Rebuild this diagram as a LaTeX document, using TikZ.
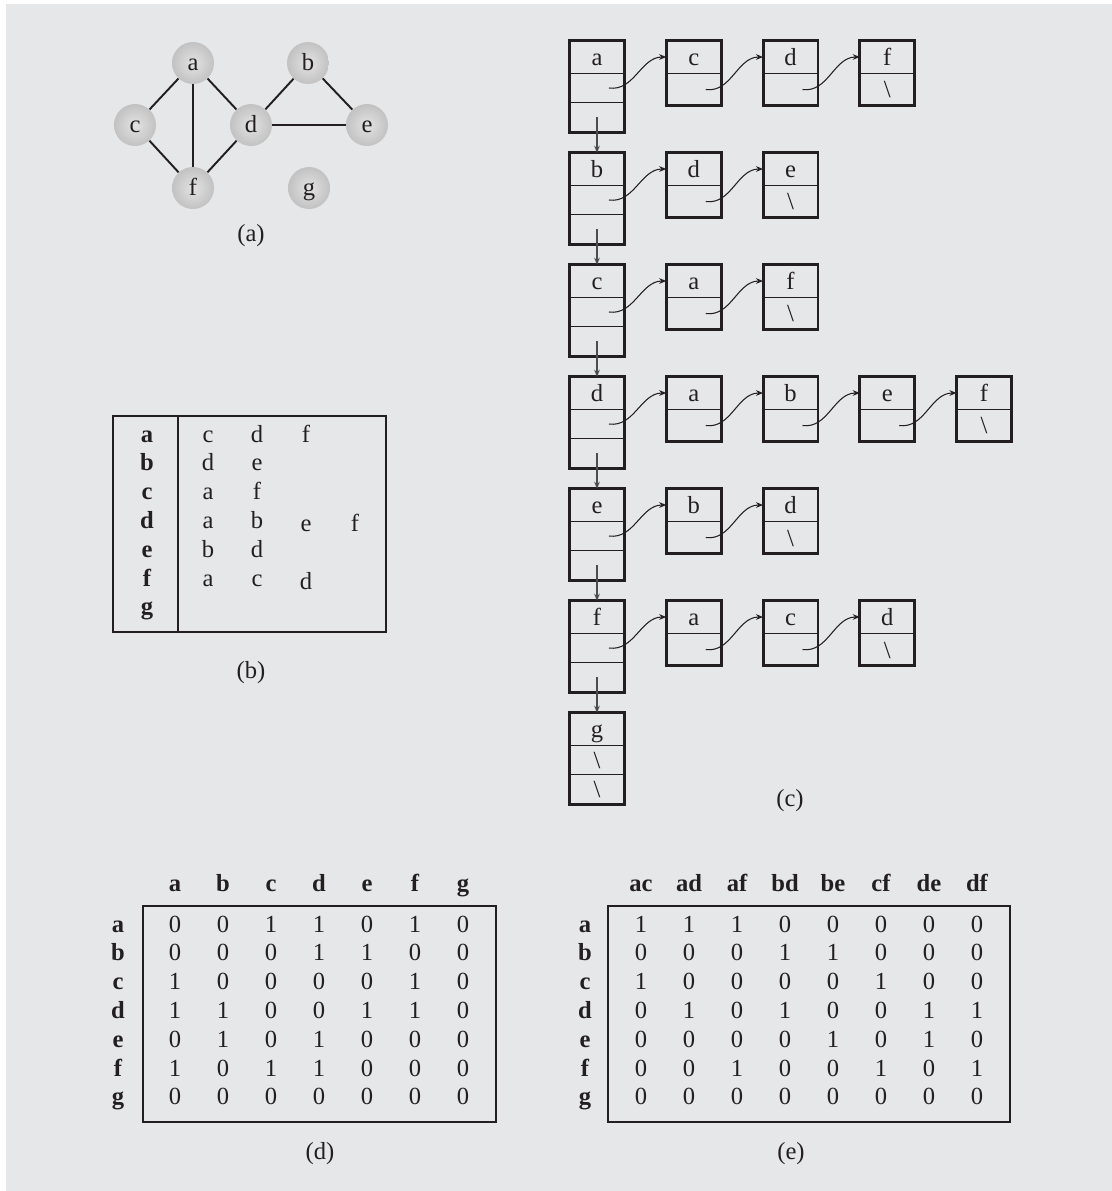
\documentclass[tikz,border=0pt]{standalone}
\usepackage{fontspec}
\setmainfont{Liberation Serif}
\usetikzlibrary{arrows.meta,positioning}

\definecolor{panel}{HTML}{E6E7E8}
\definecolor{ink}{HTML}{231F20}

\begin{document}
\begin{tikzpicture}[x=0.02cm,y=-0.02cm,
  font=\fontsize{14}{16}\selectfont, text=ink,
  vtx/.style={circle,minimum size=0.84cm,inner sep=0pt,inner color=black!11,outer color=black!24,text height=0.3cm,text depth=0pt},
  edge/.style={draw=ink,line width=1.1pt},
  cell/.style={draw=ink,line width=0.7pt,minimum width=1.1cm,minimum height=0.65cm,inner sep=0pt,outer sep=0pt,text height=0.34cm,text depth=0pt},
  low/.style={cell,minimum height=0.59cm},
  box/.style={draw=ink,line width=1.7pt},
  tbl/.style={draw=ink,line width=1.1pt},
  ptr/.style={ink,line width=0.6pt,-{Stealth[length=4pt,width=3.2pt]}},
  dn/.style={black!70,line width=0.7pt,-{Stealth[length=4pt,width=3.2pt]}},
  lbl/.style={anchor=base,inner sep=0pt},
  hd/.style={lbl,font=\fontsize{14}{16}\selectfont\bfseries}]

\fill[panel] (6,4) rectangle (1112,1191);
\useasboundingbox (0,0) rectangle (1112,1191);

% (a) the graph
\node[vtx] (v-a) at (193,63)  {a};
\node[vtx] (v-b) at (308,63)  {b};
\node[vtx] (v-c) at (135,125) {c};
\node[vtx] (v-d) at (251,125) {d};
\node[vtx] (v-e) at (367,125) {e};
\node[vtx] (v-f) at (193,188) {f};
\node[vtx] (v-g) at (309,188) {g};
\foreach \u/\w in {a/c,a/f,a/d,c/f,d/f,b/d,b/e,d/e}
  \draw[edge] (v-\u) -- (v-\w);
\node[lbl] (cap-a) at (251,241) {(a)};

% (b) adjacency table
\draw[tbl] (113,416) rectangle (386,632);
\draw[ink,line width=0.9pt] (178,416) -- (178,632);
\foreach \h/\adj [count=\r from 0] in {a/{c,d,f},b/{d,e},c/{a,f},d/{a,b,e,f},e/{b,d},f/{a,c,d}}{
  \node[hd] (tb-\h) at (147,442+28.8*\r) {\h};
  \foreach \v [count=\k] in \adj {
    \pgfmathsetmacro\dy{ifthenelse(\k>2 && (\r==3 || \r==5),3,0)}
    \node[lbl] (tb-\h-\k) at (159+49*\k,442+28.8*\r+\dy) {\v};
  }
}
\node[hd] (tb-g) at (147,442+28.8*6) {g};
\node[lbl] (cap-b) at (251,678) {(b)};

% (c) adjacency lists
\foreach \h/\adj/\n [count=\r from 0] in {a/{c,d,f}/3,b/{d,e}/2,c/{a,f}/2,d/{a,b,e,f}/4,e/{b,d}/2,f/{a,c,d}/3}{
  \node[cell] (h-\h-1) at (597,57+112*\r) {\h};
  \node[low,below=0pt of h-\h-1] (h-\h-2) {};
  \node[low,below=0pt of h-\h-2] (h-\h-3) {};
  \draw[box] (h-\h-1.north west) rectangle (h-\h-3.south east);
  \foreach \v [count=\k] in \adj {
    \node[cell] (n-\h-\k-t) at (597+96.75*\k,57+112*\r) {\v};
    \node[cell,below=0pt of n-\h-\k-t] (n-\h-\k-b) {\ifnum\k=\n\relax\textbackslash\fi};
    \draw[box] (n-\h-\k-t.north west) rectangle (n-\h-\k-b.south east);
    \ifnum\k=1 \def\src{h-\h-2}\else\pgfmathtruncatemacro\prevk{\k-1}\edef\src{n-\h-\prevk-b}\fi
    \draw[ptr] ([xshift=0.24cm]\src.center) to[out=-8,in=180] (n-\h-\k-t.west);
  }
}
\node[cell] (h-g-1) at (597,57+112*6) {g};
\node[low,below=0pt of h-g-1] (h-g-2) {\textbackslash};
\node[low,below=0pt of h-g-2] (h-g-3) {\textbackslash};
\draw[box] (h-g-1.north west) rectangle (h-g-3.south east);
\foreach \x/\y in {a/b,b/c,c/d,d/e,e/f,f/g}
  \draw[dn] (h-\x-3.center) -- (h-\y-1.north);
\node[lbl] (cap-c) at (790,806) {(c)};

% (d) adjacency matrix
\draw[tbl] (143,906) rectangle (496,1122);
\foreach \c [count=\k from 0] in {a,b,c,d,e,f,g}
  \node[hd] (md-\c) at (175+48*\k,891) {\c};
\foreach \h/\row [count=\r from 0] in {a/{0,0,1,1,0,1,0},b/{0,0,0,1,1,0,0},c/{1,0,0,0,0,1,0},d/{1,1,0,0,1,1,0},e/{0,1,0,1,0,0,0},f/{1,0,1,1,0,0,0},g/{0,0,0,0,0,0,0}}{
  \node[hd] (md-r-\h) at (118,932+28.83*\r) {\h};
  \foreach \v [count=\k from 0] in \row
    \node[lbl] (md-\h-\k) at (175+48*\k,932+28.83*\r) {\v};
}
\node[lbl] (cap-d) at (320,1159) {(d)};

% (e) incidence matrix
\draw[tbl] (608,906) rectangle (1010,1122);
\foreach \c [count=\k from 0] in {ac,ad,af,bd,be,cf,de,df}
  \node[hd] (me-\c) at (641+48*\k,891) {\c};
\foreach \h/\row [count=\r from 0] in {a/{1,1,1,0,0,0,0,0},b/{0,0,0,1,1,0,0,0},c/{1,0,0,0,0,1,0,0},d/{0,1,0,1,0,0,1,1},e/{0,0,0,0,1,0,1,0},f/{0,0,1,0,0,1,0,1},g/{0,0,0,0,0,0,0,0}}{
  \node[hd] (me-r-\h) at (585,932+28.83*\r) {\h};
  \foreach \v [count=\k from 0] in \row
    \node[lbl] (me-\h-\k) at (641+48*\k,932+28.83*\r) {\v};
}
\node[lbl] (cap-e) at (791,1159) {(e)};
\end{tikzpicture}
\end{document}
